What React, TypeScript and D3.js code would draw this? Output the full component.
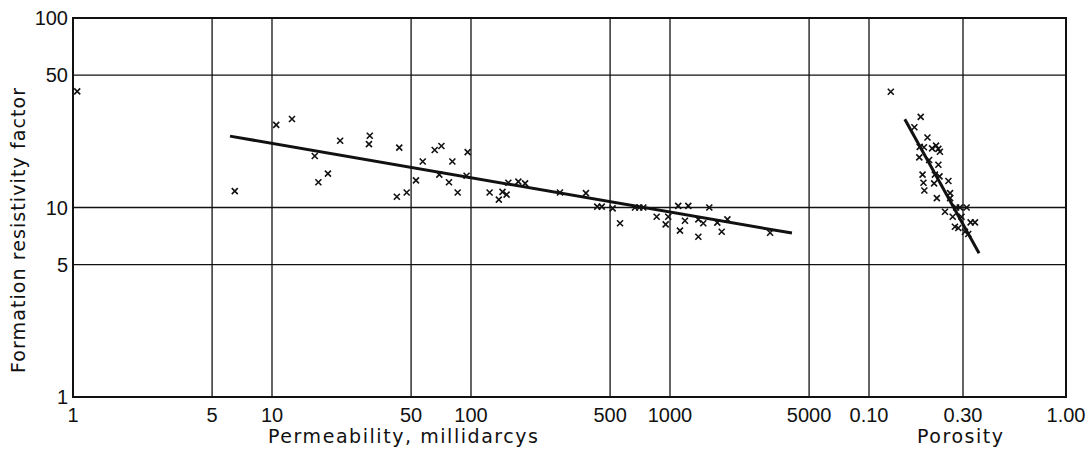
import React from 'react';
import * as d3 from 'd3';

// permeability (md) vs formation factor
const permValues = [1.05, 6.5, 10.5, 12.6, 16.4, 17.1, 19.1, 22, 31, 30.7, 42.4, 43.6, 47.5, 52.9, 57.2, 65.7, 69.3, 71, 77.5, 80.6, 85.7, 95, 96.2, 124, 138, 144, 151, 154, 173, 187, 280, 378, 431, 454, 515, 561, 667, 701, 734, 857, 951, 980, 1100, 1122, 1189, 1236, 1388, 1388, 1470, 1576, 1729, 1819, 1943, 3185];
const permFactor = [41, 12.2, 27.3, 29.3, 18.7, 13.6, 15.1, 22.5, 23.9, 21.6, 11.4, 20.7, 12.0, 13.9, 17.5, 20.1, 14.9, 21.1, 13.6, 17.5, 12.0, 14.7, 19.6, 12.0, 11.0, 12.1, 11.7, 13.5, 13.7, 13.4, 12.0, 11.9, 10.1, 10.1, 9.9, 8.26, 10.0, 10.0, 10.0, 8.94, 8.15, 8.94, 10.2, 7.55, 8.51, 10.2, 8.65, 7.01, 8.26, 10.0, 8.32, 7.45, 8.65, 7.36];

// porosity (fraction) vs formation factor
const porValues = [0.129, 0.183, 0.170, 0.198, 0.181, 0.190, 0.209, 0.219, 0.225, 0.229, 0.180, 0.202, 0.225, 0.187, 0.216, 0.228, 0.189, 0.214, 0.253, 0.191, 0.258, 0.221, 0.258, 0.277, 0.289, 0.313, 0.243, 0.266, 0.295, 0.328, 0.345, 0.273, 0.284, 0.307, 0.319];
const porFactor = [40.8, 30.1, 26.5, 23.4, 20.9, 20.8, 20.5, 21.2, 20.4, 19.7, 18.4, 17.8, 16.8, 14.9, 14.9, 14.6, 13.5, 13.4, 13.8, 12.3, 11.9, 11.2, 11.2, 10.0, 10.0, 10.0, 9.5, 8.94, 8.94, 8.35, 8.35, 7.92, 7.8, 7.45, 7.25];

// fitted lines (end points)
const permLine = [[6.15, 23.8], [4100, 7.33]];
const porLine = [[0.152, 29.2], [0.362, 5.73]];

const permTicks = [1, 5, 10, 50, 100, 500, 1000, 5000];
const permTickLabels = ['1', '5', '10', '50', '100', '500', '1000', '5000'];
const porTicks = [0.1, 0.3, 1.0];
const porTickLabels = ['0.10', '0.30', '1.00'];
const yTicks = [1, 5, 10, 50, 100];
const yTickLabels = ['1', '5', '10', '50', '100'];

const App = () => {
  const width = 1091;
  const height = 456;
  const left = 73;
  const right = 1066;
  const top = 18;
  const bottom = 397;

  const xPerm = d3.scaleLog().domain([1, 5000]).range([left, left + Math.log10(5000) * 199]);
  const xPor = d3.scaleLog().domain([0.1, 1]).range([869, right]);
  const y = d3.scaleLog().domain([1, 100]).range([bottom, top]);

  const line = d3.line();
  const font = '"Liberation Sans", Arial, sans-serif';
  const titleFont = '"DejaVu Sans", sans-serif';
  const ink = '#111';

  const cross = (cx, cy, key) => (
    <path key={key}
      d={`M${cx - 3},${cy - 3}L${cx + 3},${cy + 3}M${cx - 3},${cy + 3}L${cx + 3},${cy - 3}`}
      stroke={ink} strokeWidth={1.6} fill="none" />
  );

  return (
    <svg width={width} height={height} style={{ position: 'absolute', left: 0, top: 0, background: '#fff' }}>
      {/* grid */}
      {[5, 10, 50].map(v => (
        <line key={'h' + v} x1={left} x2={right} y1={y(v)} y2={y(v)} stroke={ink} strokeWidth={1.3} />
      ))}
      {permTicks.slice(1).map(v => (
        <line key={'vp' + v} x1={xPerm(v)} x2={xPerm(v)} y1={top} y2={bottom} stroke={ink} strokeWidth={1.3} />
      ))}
      {porTicks.slice(0, 2).map(v => (
        <line key={'vq' + v} x1={xPor(v)} x2={xPor(v)} y1={top} y2={bottom} stroke={ink} strokeWidth={1.3} />
      ))}
      <rect x={left} y={top} width={right - left} height={bottom - top} fill="none" stroke={ink} strokeWidth={2} />

      {/* y ticks */}
      {yTicks.map((v, i) => (
        <text key={'yt' + v} x={68} y={y(v) + 7} textAnchor="end" fontFamily={font} fontSize={20} fill={ink}>{yTickLabels[i]}</text>
      ))}
      {/* x ticks */}
      {permTicks.map((v, i) => (
        <text key={'xt' + v} x={xPerm(v)} y={422} textAnchor="middle" fontFamily={font} fontSize={20} fill={ink}>{permTickLabels[i]}</text>
      ))}
      {porTicks.map((v, i) => (
        <text key={'xq' + v} x={xPor(v)} y={422} textAnchor="middle" fontFamily={font} fontSize={20} fill={ink}>{porTickLabels[i]}</text>
      ))}

      {/* axis titles */}
      <text x={268} y={443} fontFamily={titleFont} fontSize={19} fill={ink} textLength={270} lengthAdjust="spacing">Permeability, millidarcys</text>
      <text x={917} y={443} fontFamily={titleFont} fontSize={19} fill={ink} textLength={86} lengthAdjust="spacing">Porosity</text>
      <text transform="translate(25,373) rotate(-90)" fontFamily={titleFont} fontSize={19} fill={ink} textLength={285} lengthAdjust="spacing">Formation resistivity factor</text>

      {/* fitted lines */}
      <path d={line(permLine.map(d => [xPerm(d[0]), y(d[1])]))} stroke={ink} strokeWidth={3} fill="none" />
      <path d={line(porLine.map(d => [xPor(d[0]), y(d[1])]))} stroke={ink} strokeWidth={3} fill="none" />

      {/* points */}
      {permValues.map((v, i) => cross(xPerm(v), y(permFactor[i]), 'p' + i))}
      {porValues.map((v, i) => cross(xPor(v), y(porFactor[i]), 'q' + i))}
    </svg>
  );
};

export default App;
